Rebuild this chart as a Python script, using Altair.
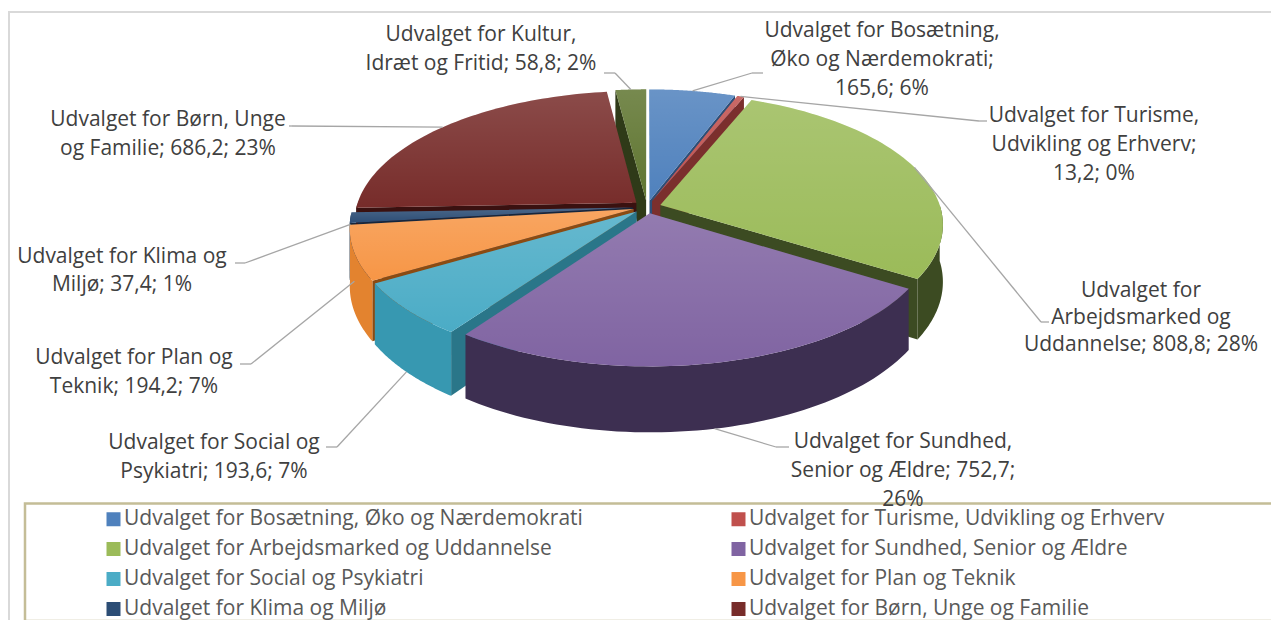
import altair as alt
import pandas as pd

# ---------------- data ----------------
names = [
    "Udvalget for Bosætning, Øko og Nærdemokrati",
    "Udvalget for Turisme, Udvikling og Erhverv",
    "Udvalget for Arbejdsmarked og Uddannelse",
    "Udvalget for Sundhed, Senior og Ældre",
    "Udvalget for Social og Psykiatri",
    "Udvalget for Plan og Teknik",
    "Udvalget for Klima og Miljø",
    "Udvalget for Børn, Unge og Familie",
    "Udvalget for Kultur, Idræt og Fritid",
]
values = [165.6, 13.2, 808.8, 752.7, 193.6, 194.2, 37.4, 686.2, 58.8]
pcts = [6, 0, 28, 26, 7, 7, 1, 23, 2]
# legend shows the first eight series, read row by row in two columns
legend_names = [names[0], names[2], names[4], names[6],
                names[1], names[3], names[5], names[7]]

label_tmpl = [
    ["Udvalget for Bosætning,", "Øko og Nærdemokrati;", "{v}; {p}%"],
    ["Udvalget for Turisme,", "Udvikling og Erhverv;", "{v}; {p}%"],
    ["Udvalget for", "Arbejdsmarked og", "Uddannelse; {v}; {p}%"],
    ["Udvalget for Sundhed,", "Senior og Ældre; {v};", "{p}%"],
    ["Udvalget for Social og", "Psykiatri; {v}; {p}%"],
    ["Udvalget for Plan og", "Teknik; {v}; {p}%"],
    ["Udvalget for Klima og", "Miljø; {v}; {p}%"],
    ["Udvalget for Børn, Unge", "og Familie; {v}; {p}%"],
    ["Udvalget for Kultur,", "Idræt og Fritid; {v}; {p}%"],
]

# ---------------- styles / layout ----------------
face_colors = ["#4F81BD", "#C0504D", "#9BBB59", "#8064A2", "#4BACC6",
               "#F79646", "#2C4D75", "#772C2A", "#5F7530"]
outer_wall_colors = ["#2D4E77", "#7B2F2D", "#3C4B22", "#3D2F51", "#3798B1",
                     "#E3832F", "#1A2E47", "#3E1514", "#2F3A18"]
radial_wall_colors = ["#2D4E77", "#7B2F2D", "#3C4B22", "#3D2F51", "#2A7689",
                      "#8B4B12", "#15263D", "#3A1110", "#2F3A18"]

label_cx = [882, 1094, 1141, 903, 214, 134, 122, 168, 481]
label_y0 = [31, 116, 291, 442, 443, 358, 257, 120, 35]
label_dy = [29, 29, 27, 29, 29, 29, 28, 29, 29]
elbow_x = [752, 979, 1041, 776, 337, 251, 245, 292, 615]
elbow_y = [73, 121, 322, 447, 447, 364, 263, 126, 73]
end_x = [763, 987, 1049, 789, 326, 240, 235, 289, 604]

W, H = 1263, 612
X0, Y0 = 8, 8
CX, CY, RX, K, C, E, D = 647, 207, 280, 129, 0.144, 0.05, 56
N = 60
FONT = "Open Sans"
FS = 21
TXT = "#404040"

# painter's order (far to near)
start_face_order = [8, 7, 6, 5, 4, 3, 2, 1, 0]
end_face_order = [0, 1, 2, 3, 4, 5, 6, 7, 8]
outer_order = [0, 1, 8, 2, 7, 6, 5, 4, 3]


def fmt(v):
    return f"{v:.1f}".replace(".", ",")


slices = pd.DataFrame({
    "idx": list(range(len(names))),
    "name": names,
    "value": values,
    "outer": outer_wall_colors,
    "radial": radial_wall_colors,
    "ex": elbow_x,
    "ey": elbow_y,
    "tx": end_x,
})

rows = []
for i, t in enumerate(label_tmpl):
    for j, line in enumerate(t):
        rows.append({"idx": i,
                     "text": line.format(v=fmt(values[i]), p=pcts[i]),
                     "x": label_cx[i],
                     "y": label_y0[i] + j * label_dy[i]})
labels = pd.DataFrame(rows)

xs = alt.Scale(domain=[X0, X0 + W])
ys = alt.Scale(domain=[Y0, Y0 + H], reverse=True)


def proj(ch):
    return (ch.transform_calculate(den=f"1 + {C}*datum.v")
              .transform_calculate(px=f"{CX} + {RX}*datum.u/datum.den")
              .transform_calculate(py=f"{CY} + (-{K}*datum.v + datum.drop*{D})/datum.den"))


def xy():
    return dict(x=alt.X("px:Q", scale=xs, axis=None),
                y=alt.Y("py:Q", scale=ys, axis=None))


base = (alt.Chart(slices)
        .transform_joinaggregate(total="sum(value)")
        .transform_window(cum="sum(value)", sort=[alt.SortField("idx")], frame=[None, 0])
        .transform_calculate(a1="2*PI*datum.cum/datum.total")
        .transform_calculate(a0="2*PI*(datum.cum - datum.value)/datum.total")
        .transform_calculate(am="(datum.a0 + datum.a1)/2")
        .transform_calculate(eu=f"{E}*sin(datum.am)")
        .transform_calculate(ev=f"{E}*cos(datum.am)"))


def radial_layer(i, side):
    cond = "sin(datum.b) < -0.001" if side == 0 else "sin(datum.b) > 0.001"
    ch = (base.transform_filter(f"datum.idx == {i}")
          .transform_calculate(b="datum.a0" if side == 0 else "datum.a1")
          .transform_filter(cond)
          .transform_calculate(ks="[0, 1, 2, 3]")
          .transform_flatten(["ks"], as_=["k"])
          .transform_calculate(r="(datum.k == 1 || datum.k == 2) ? 1 : 0")
          .transform_calculate(drop="datum.k >= 2 ? 1 : 0")
          .transform_calculate(u="datum.eu + datum.r*sin(datum.b)")
          .transform_calculate(v="datum.ev + datum.r*cos(datum.b)"))
    return proj(ch).mark_line(filled=True, interpolate="linear-closed").encode(
        **xy(), fill=alt.Fill("radial:N", scale=None, legend=None), order="k:Q")


def outer_layer(i):
    ch = (base.transform_filter(f"datum.idx == {i}")
          .transform_calculate(w0="max(datum.a0, PI/2)")
          .transform_calculate(w1="min(datum.a1, 3*PI/2)")
          .transform_filter("datum.w1 > datum.w0")
          .transform_calculate(ks=f"sequence(0, {2 * N + 2})")
          .transform_flatten(["ks"], as_=["k"])
          .transform_calculate(t=f"datum.k <= {N} ? datum.w0 + datum.k/{N}*(datum.w1 - datum.w0) : datum.w1 - (datum.k - {N + 1})/{N}*(datum.w1 - datum.w0)")
          .transform_calculate(drop=f"datum.k <= {N} ? 0 : 1")
          .transform_calculate(u="datum.eu + sin(datum.t)")
          .transform_calculate(v="datum.ev + cos(datum.t)"))
    return proj(ch).mark_line(filled=True, interpolate="linear-closed").encode(
        **xy(), fill=alt.Fill("outer:N", scale=None, legend=None), order="k:Q")


radial_layers = ([radial_layer(i, 1) for i in end_face_order] +
                 [radial_layer(i, 0) for i in start_face_order])
outer_layers = [outer_layer(i) for i in outer_order]

# top faces
top_src = (base.transform_calculate(ks=f"sequence(0, {N + 2})")
           .transform_flatten(["ks"], as_=["k"])
           .transform_calculate(t=f"datum.a0 + (datum.k - 1)/{N}*(datum.a1 - datum.a0)")
           .transform_calculate(u="datum.eu + (datum.k > 0 ? sin(datum.t) : 0)")
           .transform_calculate(v="datum.ev + (datum.k > 0 ? cos(datum.t) : 0)")
           .transform_calculate(drop="0"))
top = proj(top_src).mark_line(filled=True, interpolate="linear-closed").encode(
    **xy(),
    color=alt.Color("name:N",
                    scale=alt.Scale(domain=names, range=face_colors),
                    legend=alt.Legend(values=legend_names, orient="none",
                                      legendX=95, legendY=500.5, columns=2,
                                      symbolType="square", symbolSize=196,
                                      symbolStrokeWidth=0, symbolOpacity=1,
                                      labelFont=FONT, labelFontSize=FS,
                                      labelColor="#595959", labelLimit=0,
                                      labelOffset=0, rowPadding=8,
                                      columnPadding=145, padding=0,
                                      title=None)),
    detail="idx:N", order="k:Q")

# soft highlight on top faces
shine = proj(top_src).mark_line(
    filled=True, interpolate="linear-closed",
    fill=alt.LinearGradient(gradient="linear",
                            stops=[alt.GradientStop(color="rgba(255,255,255,0.15)", offset=0),
                                   alt.GradientStop(color="rgba(255,255,255,0)", offset=1)],
                            x1=0, x2=0, y1=0, y2=1)).encode(
    **xy(), detail="idx:N", order="k:Q")

# leader lines
lead = (base.transform_calculate(u="datum.eu + sin(datum.am)")
        .transform_calculate(v="datum.ev + cos(datum.am)")
        .transform_calculate(drop="min(1, max(0, -1.5*cos(datum.am)))"))
lead1 = proj(lead).mark_rule(color="#A6A6A6", strokeWidth=1.3).encode(
    **xy(), x2="ex:Q", y2="ey:Q")
lead2 = alt.Chart(slices).mark_rule(color="#A6A6A6", strokeWidth=1.3).encode(
    x=alt.X("ex:Q", scale=xs, axis=None), y=alt.Y("ey:Q", scale=ys, axis=None),
    x2="tx:Q", y2="ey:Q")

text = alt.Chart(labels).mark_text(font=FONT, fontSize=FS, color=TXT,
                                   align="center", baseline="middle").encode(
    x=alt.X("x:Q", scale=xs, axis=None), y=alt.Y("y:Q", scale=ys, axis=None),
    text="text:N")

one = pd.DataFrame({"a": [0]})
border = alt.Chart(one).mark_rect(fill="transparent", stroke="#D9D9D9", strokeWidth=2).encode(
    x=alt.value(1), x2=alt.value(1400), y=alt.value(4), y2=alt.value(800))
frame = alt.Chart(one).mark_rect(fill="transparent", stroke="#C4BD97", strokeWidth=2.5).encode(
    x=alt.value(17), x2=alt.value(1400), y=alt.value(495.5), y2=alt.value(613))

chart = (alt.layer(border, *radial_layers, *outer_layers, top, shine,
                   lead1, lead2, frame, text)
         .properties(width=W, height=H, padding=0, autosize="none")
         .configure_view(stroke=None))

chart.save("out.html", embed_options={"renderer": "svg", "actions": False})
